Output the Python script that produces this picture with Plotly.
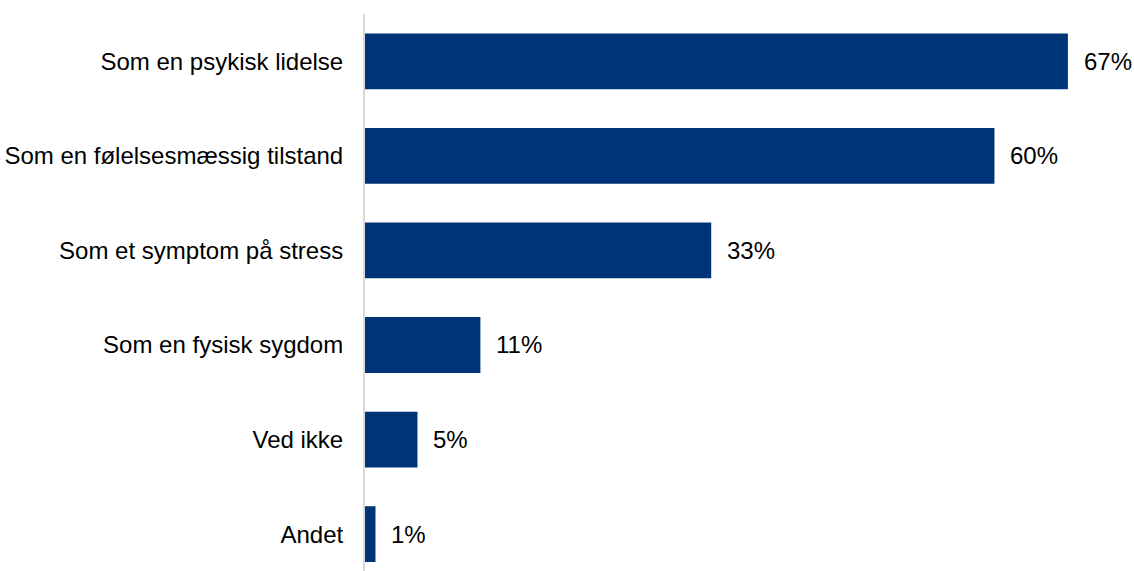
import plotly.graph_objects as go

categories = [
    "Som en psykisk lidelse",
    "Som en følelsesmæssig tilstand",
    "Som et symptom på stress",
    "Som en fysisk sygdom",
    "Ved ikke",
    "Andet",
]
values = [67, 60, 33, 11, 5, 1]
value_labels = [f"{v}%" for v in values]

bar_color = "#003478"
font_family = "Liberation Sans, Arial, sans-serif"

fig = go.Figure(
    go.Bar(
        x=values,
        y=categories,
        orientation="h",
        marker=dict(color=bar_color, line=dict(width=0)),
        width=0.59,
        hoverinfo="skip",
    )
)

# value labels placed just to the right of each bar end
for cat, v, lab in zip(categories, values, value_labels):
    fig.add_annotation(
        x=v, y=cat, text=lab, showarrow=False,
        xanchor="left", yanchor="middle", xshift=14,
        font=dict(family=font_family, size=24, color="#000000"),
    )

fig.update_layout(
    width=1134, height=571,
    margin=dict(l=365, r=0, t=14, b=0),
    paper_bgcolor="white", plot_bgcolor="white",
    showlegend=False,
    font=dict(family=font_family, size=24, color="#000000"),
)
fig.update_xaxes(
    range=[0, 73.3], visible=False, showgrid=False, zeroline=False,
)
fig.update_yaxes(
    categoryorder="array", categoryarray=categories,
    range=[5.39, -0.5],
    showgrid=False, zeroline=False,
    showline=True, linecolor="#d9d9d9", linewidth=2,
    ticks="", ticklabelstandoff=15,
    tickfont=dict(family=font_family, size=24, color="#000000"),
)

fig.write_html("out.html")
